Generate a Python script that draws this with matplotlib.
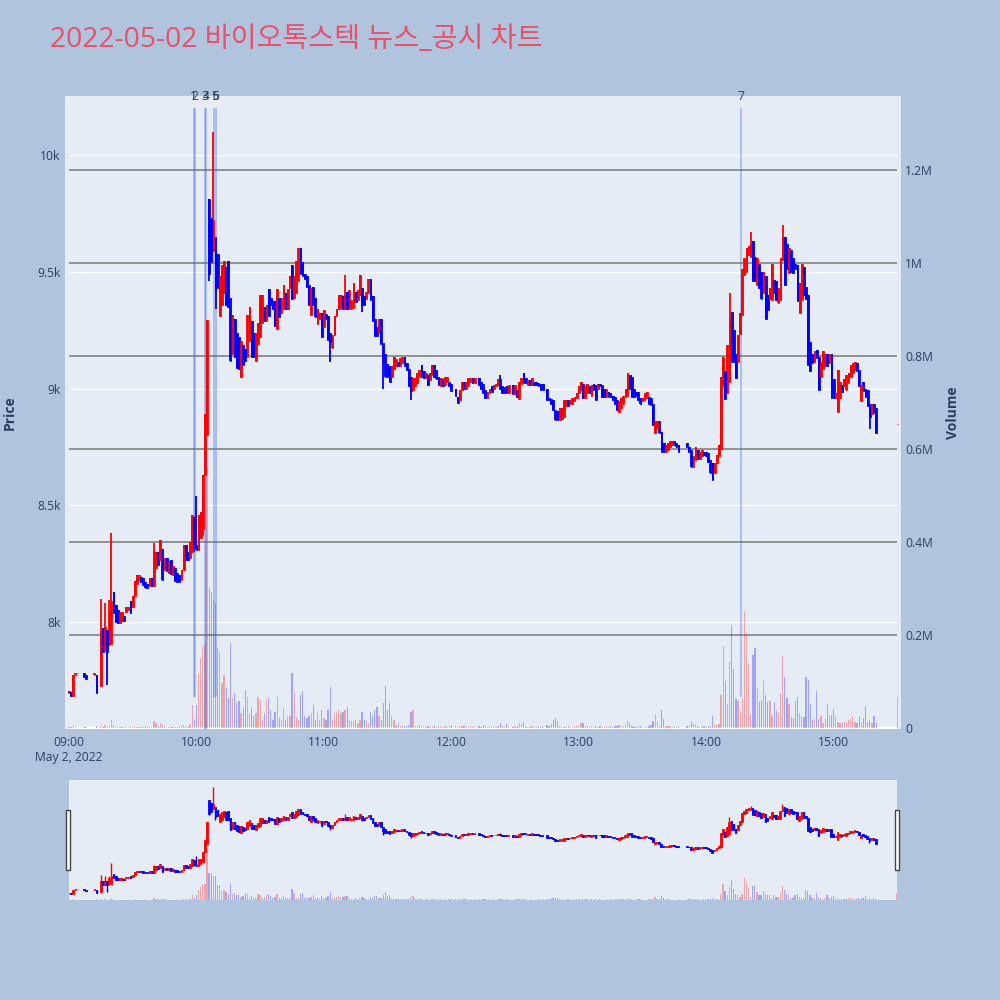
import matplotlib
matplotlib.use('Agg')
import matplotlib.pyplot as plt
import matplotlib.transforms as mtransforms
from matplotlib.patches import Rectangle

plt.rcParams['font.family'] = ['Open Sans', 'Noto Sans CJK KR', 'DejaVu Sans']

# minutes after 09:00 (1-minute candles, some minutes without trades)
t_min = ([0, 1, 2, 3, 4, 7, 8, 12, 13] + list(range(15, 181)) + list(range(182, 192))
         + list(range(193, 208)) + list(range(209, 224)) + list(range(225, 288))
         + list(range(291, 381)) + [390])

opn = [
    7695, 7700, 7685, 7775, 7780, 7780, 7775, 7775, 7775,
    7725, 7975, 7875, 7965, 7900, 7905, 8130, 8075, 8050, 7995,
    8005, 8025, 8045, 8050, 8090, 8065, 8110, 8165, 8180, 8195,
    8190, 8170, 8165, 8155, 8190, 8155, 8230, 8300, 8265, 8315,
    8225, 8275, 8210, 8265, 8200, 8230, 8210, 8200, 8180, 8225,
    8330, 8300, 8275, 8300, 8450, 8330, 8310, 8360, 8400, 8630,
    8800, 9810, 9730, 9590, 9650, 9575, 9310, 9360, 9410, 9520,
    9545, 9390, 9150, 9300, 9240, 9220, 9050, 9185, 9170, 9135,
    9205, 9290, 9240, 9120, 9190, 9220, 9280, 9350, 9290, 9425,
    9390, 9375, 9375, 9255, 9390, 9325, 9340, 9410, 9340, 9430,
    9530, 9390, 9410, 9460, 9600, 9540, 9490, 9480, 9445, 9315,
    9435, 9390, 9275, 9300, 9325, 9265, 9320, 9310, 9240, 9175,
    9230, 9310, 9340, 9345, 9395, 9340, 9415, 9340, 9340, 9345,
    9415, 9380, 9400, 9430, 9395, 9385, 9410, 9470, 9395, 9300,
    9265, 9240, 9300, 9195, 9150, 9105, 9095, 9050, 9085, 9095,
    9115, 9095, 9110, 9135, 9110, 9085, 9050, 8995, 9010, 9025,
    9050, 9100, 9075, 9045, 9060, 9035, 9060, 9100, 9080, 9050,
    9010, 9040, 9015, 9030, 9030, 9020,
    9000, 8965, 8950, 8995, 9030, 9000, 9010, 9030, 9045, 9025,
    9045, 9030, 9020, 8995, 8960, 8980, 9010, 9000, 9010, 9015, 9040, 9010, 9005, 9010, 8980,
    9015, 8975, 8995, 8955, 9020, 9065, 9045, 9015, 9035, 9015, 9030, 9030, 9025, 9020, 9020,
    9000, 8960, 8955, 8950, 8910, 8905, 8865, 8870, 8880, 8925,
    8950, 8935, 8935, 8945, 8960, 8980, 8995, 9020, 8960, 8980,
    9010, 8970, 9020,
    9015, 9000, 9020, 9015, 9000, 8965, 8985, 8980, 8970, 8965,
    8950, 8900, 8915, 8935, 8965, 8970, 9060, 9050, 9000, 8985,
    8985, 8960, 8945, 8950, 8960, 8965, 8960, 8935, 8810, 8825,
    8860, 8815, 8765, 8730, 8735, 8750, 8760, 8775, 8765, 8760,
    8765, 8750, 8735, 8665, 8695, 8735, 8700, 8710, 8730, 8730,
    8725, 8695, 8680, 8640, 8680, 8710, 8740, 9010, 9075, 8980,
    9030, 9330, 9250, 9150, 9115, 9235, 9315, 9485, 9500, 9570,
    9565, 9630, 9565, 9445, 9535, 9500, 9410, 9480, 9400, 9385,
    9380, 9465, 9460, 9365, 9380, 9550, 9650, 9620, 9495, 9595,
    9560, 9535, 9530, 9325, 9380, 9520, 9435, 9400, 9200, 9150,
    9115, 9165, 9135, 9050, 9085, 9095, 9150, 9110, 9150, 9040,
    8960, 8900, 8960, 9015, 9010, 8995, 9025, 9050, 9065, 9080,
    9110, 9080, 8945, 9030, 9000, 8995, 8935, 8890, 8935, 8915,
    8850,
]

cls = [
    7705, 7685, 7775, 7780, 7780, 7765, 7755, 7780, 7695,
    7960, 7870, 7980, 7870, 8050, 8090, 8040, 8000, 7995, 8045,
    8045, 8005, 8065, 8065, 8040, 8110, 8175, 8200, 8200, 8170,
    8160, 8145, 8145, 8190, 8155, 8300, 8300, 8245, 8350, 8180,
    8275, 8220, 8260, 8205, 8240, 8175, 8170, 8170, 8225, 8330,
    8265, 8265, 8345, 8460, 8330, 8310, 8460, 8470, 8630, 8890,
    9295, 9490, 9540, 9720, 9420, 9430, 9480, 9530, 9545, 9360,
    9350, 9120, 9315, 9135, 9090, 9085, 9205, 9100, 9120, 9315,
    9350, 9135, 9135, 9240, 9280, 9400, 9400, 9290, 9360, 9310,
    9360, 9340, 9270, 9425, 9305, 9390, 9445, 9340, 9425, 9480,
    9385, 9480, 9545, 9600, 9490, 9480, 9470, 9435, 9360, 9430,
    9360, 9305, 9340, 9325, 9220, 9335, 9300, 9210, 9200, 9230,
    9310, 9340, 9400, 9400, 9340, 9400, 9340, 9420, 9380, 9450,
    9370, 9420, 9485, 9360, 9360, 9415, 9470, 9380, 9290, 9225,
    9225, 9300, 9190, 9110, 9050, 9050, 9030, 9095, 9135, 9125,
    9095, 9130, 9135, 9095, 9080, 9010, 8990, 9045, 9045, 9065,
    9080, 9050, 9045, 9065, 9015, 9065, 9100, 9050, 9040, 9015,
    9045, 9010, 9050, 9050, 9010, 8990,
    8970, 8940, 8995, 9030, 9000, 9030, 9045, 9045, 9025, 9045,
    9015, 9000, 8980, 8960, 8985, 9000, 8985, 9015, 9020, 9040, 9000, 8980, 8980, 8980, 9015,
    8975, 9015, 8965, 9030, 9045, 9025, 9025, 9035, 9015, 9045, 9015, 9015, 9010, 8995, 8995,
    8950, 8950, 8935, 8910, 8865, 8865, 8915, 8915, 8950, 8950,
    8925, 8950, 8960, 8965, 8980, 9010, 9030, 8960, 9010, 9020,
    8980, 9015, 8995,
    8950, 9020, 9010, 8965, 8965, 9000, 8965, 8965, 8950, 8935,
    8910, 8945, 8960, 8970, 9000, 9065, 9000, 8965, 8965, 8970,
    8950, 8935, 8960, 8980, 8985, 8935, 8930, 8845, 8860, 8860,
    8810, 8730, 8730, 8760, 8765, 8775, 8775, 8760, 8750, 8730,
    8750, 8730, 8665, 8710, 8750, 8700, 8730, 8735, 8715, 8710,
    8685, 8640, 8610, 8680, 8715, 8760, 9050, 9135, 8955, 9185,
    9300, 9115, 9115, 9045, 9230, 9325, 9510, 9560, 9600, 9610,
    9620, 9460, 9460, 9560, 9430, 9385, 9500, 9300, 9335, 9430,
    9535, 9410, 9380, 9430, 9560, 9650, 9445, 9510, 9600, 9500,
    9495, 9510, 9375, 9450, 9535, 9400, 9385, 9100, 9075, 9110,
    9160, 9130, 8995, 9115, 9160, 9150, 9095, 9150, 8960, 8960,
    8980, 9080, 9030, 8985, 9040, 9060, 9065, 9100, 9110, 9115,
    9075, 9010, 9015, 8990, 8965, 8925, 8880, 8935, 8895, 8810,
    8850,
]

vol = [
    3000, 2000, 6000, 1500, 1000, 2000, 2000, 1000, 4000,
    4000, 3000, 6000, 3000, 5000, 17000, 6000, 3000, 2000, 2000,
    2000, 1500, 2000, 2000, 1500, 3000, 5000, 3000, 2000, 2000,
    2000, 4000, 2000, 2000, 2000, 16000, 11000, 4000, 10000, 6000,
    4000, 3000, 2000, 2000, 2000, 3000, 2000, 3000, 4000, 6000,
    4000, 3000, 8000, 49000, 20000, 50000, 116000, 150000, 174000, 180000,
    560000, 300000, 292000, 275000, 268000, 172000, 165000, 97000, 114000, 88000,
    64000, 183000, 64000, 75000, 54000, 58000, 32000, 43000, 82000, 67000,
    32000, 43000, 25000, 32000, 67000, 60000, 17000, 32000, 60000, 64000,
    39000, 17000, 35000, 67000, 21000, 17000, 42000, 17000, 25000, 25000,
    118000, 75000, 21000, 17000, 71000, 80000, 25000, 21000, 25000, 32000,
    50000, 17000, 32000, 17000, 39000, 21000, 17000, 39000, 88000, 17000,
    32000, 35000, 39000, 32000, 35000, 39000, 45000, 17000, 14000, 14000,
    17000, 10000, 17000, 35000, 17000, 14000, 10000, 35000, 25000, 39000,
    46000, 25000, 17000, 54000, 90000, 39000, 54000, 25000, 17000, 7000,
    10000, 4000, 7000, 4000, 4000, 7000, 35000, 39000, 4000, 4000,
    6000, 4000, 3000, 4000, 5000, 3000, 4000, 6000, 3000, 4000,
    4000, 3000, 5000, 3000, 4000, 6000,
    4000, 3000, 5000, 4000, 5000, 4000, 3000, 4000, 3000, 5000,
    4000, 3000, 6000, 4000, 3000, 4000, 3000, 5000, 3000, 4000, 11000, 5000, 3000, 9000, 4000,
    3000, 4000, 4000, 10000, 8000, 12000, 4000, 3000, 3000, 4000, 3000, 3000, 4000, 3000, 5000,
    6000, 5000, 8000, 18000, 21000, 15000, 5000, 4000, 3000, 3000,
    4000, 3000, 3000, 4000, 5000, 5000, 10000, 11000, 5000, 4000,
    3000, 4000, 3000, 5000, 3000, 4000, 3000, 3000, 4000, 3000,
    4000, 3000, 4000, 4000, 6000, 4000, 5000, 6000, 16000, 10000,
    5000, 3000, 3000, 4000, 4000, 3000, 3000, 3000, 4000, 6000,
    14000, 30000, 12000, 5000, 39000, 19000, 5000, 4000, 4000, 3000,
    3000, 3000, 4000,
    5000, 4000, 14000, 9000, 8000, 4000, 3000, 3000, 4000, 3000,
    4000, 5000, 26000, 9000, 6000, 9000, 71000, 177000, 102000, 52000,
    141000, 221000, 127000, 62000, 57000, 37000, 64000, 252000, 204000, 139000,
    30000, 156000, 171000, 87000, 55000, 60000, 104000, 71000, 55000, 57000,
    25000, 55000, 37000, 32000, 74000, 154000, 110000, 64000, 52000, 23000,
    21000, 59000, 66000, 32000, 26000, 23000, 110000, 104000, 52000, 17000,
    19000, 80000, 19000, 25000, 10000, 19000, 52000, 25000, 28000, 40000,
    25000, 13000, 10000, 10000, 12000, 13000, 17000, 19000, 25000, 13000,
    10000, 25000, 12000, 21000, 47000, 12000, 17000, 10000, 25000, 10000,
    67000,
]

# wick extremes that reach beyond the candle body
wick_t = [15, 17, 18, 19, 20, 40, 59, 60, 63, 66, 68, 69, 123, 130, 138, 148, 161, 203, 311, 321, 336, 377]
wick_v = [8100, 8080, 7730, 8095, 8380, 8340, 8300, 8540, 8370, 9460, 10100, 9340, 9115, 9485, 9330, 9000,
          8950, 9060, 9410, 9670, 9700, 8825]

# news / disclosure markers
event_t = [58.8, 59.2, 64.0, 64.4, 68.4, 69.2, 316.2]
event_lbl = ['1', '2', '3', '4', '5', '6', '7']

price_ticks = [8000, 8500, 9000, 9500, 10000]
price_lbls = ['8k', '8.5k', '9k', '9.5k', '10k']
vol_ticks = [0, 200000, 400000, 600000, 800000, 1000000, 1200000]
vol_lbls = ['0', '0.2M', '0.4M', '0.6M', '0.8M', '1M', '1.2M']
time_ticks = [0, 60, 120, 180, 240, 300, 360]
time_lbls = ['09:00', '10:00', '11:00', '12:00', '13:00', '14:00', '15:00']

assert len(t_min) == len(opn) == len(cls) == len(vol), (len(t_min), len(opn), len(cls), len(vol))

hi = [max(o, c) for o, c in zip(opn, cls)]
lo = [min(o, c) for o, c in zip(opn, cls)]
for t, v in zip(wick_t, wick_v):
    i = t_min.index(t)
    hi[i] = max(hi[i], v)
    lo[i] = min(lo[i], v)
up = [c >= o for o, c in zip(opn, cls)]
ccol = ['#ff0000' if u else '#0000ff' for u in up]

BG = '#e5ecf6'
TXT = '#2a3f5f'
PRICE_LIM = (7542, 10253)
VOL_LIM = (-2150, 1359000)


def draw_candles(a, lw):
    a.vlines(t_min, lo, hi, colors=ccol, linewidth=lw, zorder=3)
    a.bar(t_min, [c - o for o, c in zip(opn, cls)], bottom=opn, width=0.8,
          color=ccol, edgecolor=ccol, linewidth=0.6, zorder=4)


def draw_volume(a):
    a.bar(t_min, vol, width=0.6, color=ccol, alpha=0.3, linewidth=0, zorder=2)


fig = plt.figure(figsize=(10, 10), dpi=100, facecolor='#b0c4de')

ax = fig.add_axes([0.065, 0.271, 0.836, 0.633])
ax.set_facecolor(BG)
ax.set_xlim(-1.88, 391.7)
ax.set_ylim(*PRICE_LIM)
ax.hlines(price_ticks, 0, 390, colors='white', linewidth=1, zorder=0)
ax.set_yticks(price_ticks, price_lbls)
ax.set_xticks(time_ticks, time_lbls)
ax.tick_params(axis='both', length=0, labelsize=8.7, labelcolor=TXT)
ax.tick_params(axis='y', pad=3)
ax.tick_params(axis='x', pad=5)
for s in ax.spines.values():
    s.set_visible(False)
ax.text(0, -0.045, 'May 2, 2022', transform=mtransforms.blended_transform_factory(ax.transData, ax.transAxes),
        ha='center', va='center', fontsize=8.7, color=TXT)

axv = ax.twinx()
axv.set_ylim(*VOL_LIM)
draw_volume(axv)
axv.hlines(vol_ticks[1:], 0, 390, colors='#8a8a8a', linewidth=1.3, zorder=1)
axv.hlines(0, 0, 390, colors='white', linewidth=1.5, zorder=1)
axv.set_yticks(vol_ticks, vol_lbls)
axv.tick_params(axis='y', length=0, pad=3, labelsize=8.7, labelcolor=TXT)
for s in axv.spines.values():
    s.set_visible(False)

axc = ax.twinx()
axc.set_ylim(*PRICE_LIM)
axc.axis('off')
tr = mtransforms.blended_transform_factory(axc.transData, axc.transAxes)
for t, lbl in zip(event_t, event_lbl):
    bottom = 0.0 if lbl in ('3', '4') else 0.05
    axc.vlines(t, bottom, 0.981, colors='royalblue', alpha=0.45, linewidth=1.1, transform=tr, zorder=1)
    axc.text(t, 1.0, lbl, transform=tr, ha='center', va='center', fontsize=8.7, color=TXT)
draw_candles(axc, 1.3)

fig.text(0.05, 0.960, '2022-05-02 바이오톡스텍 뉴스_공시 차트', fontsize=20.3, color='#e9506a',
         ha='left', va='center')
fig.text(0.010, 0.587, 'Price', rotation=90, ha='center', va='center', fontsize=10,
         fontweight='bold', color=TXT)
fig.text(0.953, 0.587, 'Volume', rotation=90, ha='center', va='center', fontsize=10,
         fontweight='bold', color=TXT)

# range slider
axs = fig.add_axes([0.069, 0.100, 0.828, 0.120])
axs.set_facecolor(BG)
axs.set_xlim(0, 390)
axs.set_ylim(*VOL_LIM)
draw_volume(axs)
axs.set_xticks([])
axs.set_yticks([])
for s in axs.spines.values():
    s.set_visible(False)
axs2 = axs.twinx()
axs2.set_ylim(*PRICE_LIM)
axs2.axis('off')
draw_candles(axs2, 1.0)
for x0 in (-0.0036, 0.9976):
    axs2.add_patch(Rectangle((x0, 0.25), 0.0048, 0.5, transform=axs.transAxes, clip_on=False,
                             facecolor='white', edgecolor='#444444', linewidth=1, zorder=10))

fig.savefig('out.png', dpi=100, facecolor=fig.get_facecolor())
